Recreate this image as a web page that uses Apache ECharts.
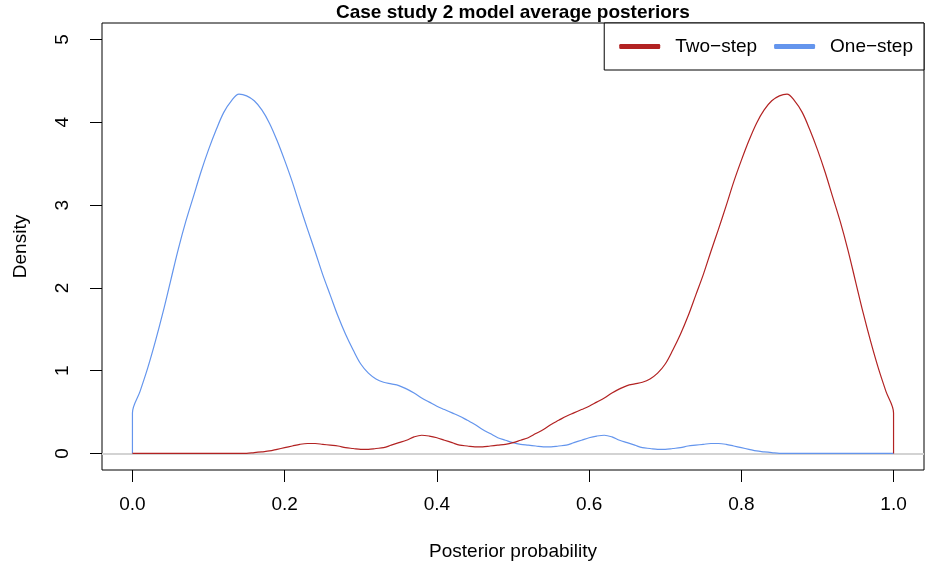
<!DOCTYPE html>
<html>
<head>
<meta charset="utf-8">
<title>Case study 2 model average posteriors</title>
<script src="https://cdn.jsdelivr.net/npm/echarts@6/dist/echarts.min.js"></script>
<style>
    html, body { margin: 0; padding: 0; background: #fff; }
    #chart { width: 927px; height: 571px; }
</style>
</head>
<body>
<div id="chart"></div>
<script>
// posterior probability grid (x positions of the density estimate)
const probGrid = [0.00, 0.01, 0.02, 0.03, 0.04, 0.05, 0.06, 0.07, 0.08, 0.09,
    0.10, 0.11, 0.12, 0.13, 0.14, 0.15, 0.16, 0.17, 0.18, 0.19,
    0.20, 0.21, 0.22, 0.23, 0.24, 0.25, 0.26, 0.27, 0.28, 0.29,
    0.30, 0.31, 0.32, 0.33, 0.34, 0.35, 0.36, 0.37, 0.38, 0.39,
    0.40, 0.41, 0.42, 0.43, 0.44, 0.45, 0.46, 0.47, 0.48, 0.49,
    0.50, 0.51, 0.52, 0.53, 0.54, 0.55, 0.56, 0.57, 0.58, 0.59,
    0.60, 0.61, 0.62, 0.63, 0.64, 0.65, 0.66, 0.67, 0.68, 0.69,
    0.70, 0.71, 0.72, 0.73, 0.74, 0.75, 0.76, 0.77, 0.78, 0.79,
    0.80, 0.81, 0.82, 0.83, 0.84, 0.85, 0.86, 0.87, 0.88, 0.89,
    0.90, 0.91, 0.92, 0.93, 0.94, 0.95, 0.96, 0.97, 0.98, 0.99, 1.00]

// density, one-step (blue)
const oneStep = [0.49, 0.75, 1.03, 1.35, 1.70, 2.08, 2.46, 2.80, 3.10, 3.40,
    3.67, 3.91, 4.12, 4.26, 4.34, 4.32, 4.26, 4.15, 3.99, 3.78,
    3.54, 3.28, 2.99, 2.71, 2.44, 2.16, 1.91, 1.66, 1.44, 1.25,
    1.08, 0.97, 0.90, 0.86, 0.84, 0.82, 0.78, 0.73, 0.67, 0.62,
    0.57, 0.53, 0.49, 0.45, 0.40, 0.35, 0.29, 0.24, 0.19, 0.16,
    0.13, 0.11, 0.10, 0.09, 0.08, 0.08, 0.09, 0.10, 0.13, 0.16,
    0.19, 0.21, 0.22, 0.20, 0.16, 0.13, 0.10, 0.07, 0.06, 0.05,
    0.05, 0.06, 0.07, 0.09, 0.10, 0.11, 0.12, 0.12, 0.11, 0.09,
    0.07, 0.05, 0.03, 0.02, 0.01, 0.00, 0.00, 0.00, 0.00, 0.00,
    0.00, 0.00, 0.00, 0.00, 0.00, 0.00, 0.00, 0.00, 0.00, 0.00, 0.00]

// density, two-step (red)
const twoStep = [0.00, 0.00, 0.00, 0.00, 0.00, 0.00, 0.00, 0.00, 0.00, 0.00,
    0.00, 0.00, 0.00, 0.00, 0.00, 0.00, 0.01, 0.02, 0.03, 0.05,
    0.07, 0.09, 0.11, 0.12, 0.12, 0.11, 0.10, 0.09, 0.07, 0.06,
    0.05, 0.05, 0.06, 0.07, 0.10, 0.13, 0.16, 0.20, 0.22, 0.21,
    0.19, 0.16, 0.13, 0.10, 0.09, 0.08, 0.08, 0.09, 0.10, 0.11,
    0.13, 0.16, 0.19, 0.24, 0.29, 0.35, 0.40, 0.45, 0.49, 0.53,
    0.57, 0.62, 0.67, 0.73, 0.78, 0.82, 0.84, 0.86, 0.90, 0.97,
    1.08, 1.25, 1.44, 1.66, 1.91, 2.16, 2.44, 2.71, 2.99, 3.28,
    3.54, 3.78, 3.99, 4.15, 4.26, 4.32, 4.34, 4.26, 4.12, 3.91,
    3.67, 3.40, 3.10, 2.80, 2.46, 2.08, 1.70, 1.35, 1.03, 0.75, 0.49]

const xTicks = [0, 0.2, 0.4, 0.6, 0.8, 1.0]
const yTicks = [0, 1, 2, 3, 4, 5]

const font = 'Liberation Sans, Arial, Helvetica, sans-serif'

// density() polygons drop to zero at the bounds
const bluePts = [[0, 0]].concat(probGrid.map((x, i) => [x, oneStep[i]]))
const redPts = probGrid.map((x, i) => [x, twoStep[i]]).concat([[1, 0]])

const chart = echarts.init(document.getElementById('chart'))

const option = {
    animation: false,
    backgroundColor: '#fff',
    textStyle: { fontFamily: font },
    title: {
        text: 'Case study 2 model average posteriors',
        left: 336,
        top: 3,
        padding: 0,
        textStyle: { fontSize: 19, fontWeight: 'bold', color: '#000', fontFamily: font }
    },
    legend: {
        data: ['Two\u2212step', 'One\u2212step'],
        right: 3,
        top: 23,
        orient: 'horizontal',
        padding: [14, 11, 14, 15],
        itemGap: 17,
        itemWidth: 41,
        itemHeight: 5,
        icon: 'roundRect',
        borderColor: '#000',
        borderWidth: 1,
        borderRadius: 0,
        backgroundColor: '#fff',
        textStyle: { fontSize: 19, color: '#000', padding: [0, 0, 0, 10], lineHeight: 19 }
    },
    grid: {
        left: 102,
        right: 3,
        top: 23,
        bottom: 101,
        show: true,
        borderColor: '#000',
        borderWidth: 1,
        backgroundColor: 'transparent'
    },
    xAxis: {
        type: 'value',
        min: -0.04,
        max: 1.04,
        name: 'Posterior probability',
        nameLocation: 'middle',
        nameGap: 72,
        nameTextStyle: { fontSize: 19, color: '#000' },
        axisLine: { show: false, onZero: false },
        splitLine: { show: false },
        axisTick: { show: true, length: 12, customValues: xTicks, lineStyle: { color: '#000' } },
        axisLabel: {
            customValues: xTicks,
            margin: 25,
            fontSize: 19,
            color: '#000',
            formatter: v => v.toFixed(1)
        }
    },
    yAxis: {
        type: 'value',
        min: -0.2,
        max: 5.2,
        name: 'Density',
        nameLocation: 'middle',
        nameRotate: 90,
        nameGap: 72,
        nameTextStyle: { fontSize: 19, color: '#000' },
        axisLine: { show: false, onZero: false },
        splitLine: { show: false },
        axisTick: { show: true, length: 12, customValues: yTicks, lineStyle: { color: '#000' } },
        axisLabel: {
            customValues: yTicks,
            rotate: 90,
            margin: 30,
            fontSize: 19,
            color: '#000'
        }
    },
    series: [
        {
            name: 'One\u2212step',
            type: 'line',
            data: bluePts,
            showSymbol: false,
            smooth: 0.35,
            color: '#6495ED',
            lineStyle: { width: 1.2, color: '#6495ED' },
            z: 3,
            // grey reference line at zero
            markLine: {
                silent: true,
                symbol: 'none',
                z: 1,
                label: { show: false },
                lineStyle: { color: '#d3d3d3', width: 2, type: 'solid' },
                data: [{ yAxis: 0 }]
            }
        },
        {
            name: 'Two\u2212step',
            type: 'line',
            data: redPts,
            showSymbol: false,
            smooth: 0.35,
            color: '#B22222',
            lineStyle: { width: 1.2, color: '#B22222' },
            z: 3
        }
    ]
}

chart.setOption(option)
</script>
</body>
</html>
